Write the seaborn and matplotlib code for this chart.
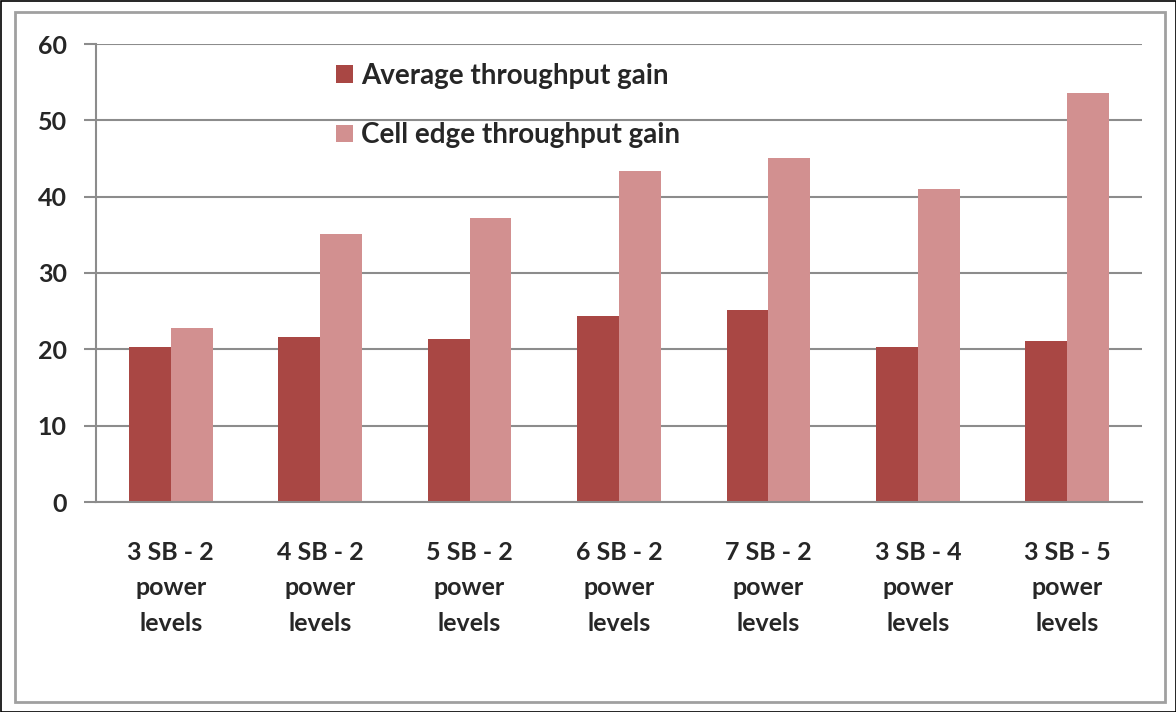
import matplotlib
matplotlib.use("Agg")
import matplotlib.pyplot as plt
from matplotlib.patches import Rectangle
import pandas as pd
import seaborn as sns

categories = [
    "3 SB - 2\npower\nlevels",
    "4 SB - 2\npower\nlevels",
    "5 SB - 2\npower\nlevels",
    "6 SB - 2\npower\nlevels",
    "7 SB - 2\npower\nlevels",
    "3 SB - 4\npower\nlevels",
    "3 SB - 5\npower\nlevels",
]
avg_gain = [20.3, 21.6, 21.4, 24.4, 25.2, 20.3, 21.1]
edge_gain = [22.8, 35.1, 37.2, 43.4, 45.1, 41.0, 53.6]
series_names = ["Average throughput gain", "Cell edge throughput gain"]
yticks = [0, 10, 20, 30, 40, 50, 60]

df = pd.DataFrame({
    "category": categories * 2,
    "value": avg_gain + edge_gain,
    "series": [series_names[0]] * len(categories) + [series_names[1]] * len(categories),
})

sns.set_style("white")
plt.rcParams["font.family"] = ["Lato", "DejaVu Sans"]
plt.rcParams["font.weight"] = "bold"

fig = plt.figure(figsize=(11.76, 7.12), dpi=100)
ax = fig.add_axes([96 / 1176, 1 - 502 / 712, (1142 - 96) / 1176, (502 - 44) / 712])

palette = {series_names[0]: "#A94744", series_names[1]: "#D29090"}
sns.barplot(data=df, x="category", y="value", hue="series", palette=palette,
            width=0.56, saturation=1, linewidth=0, ax=ax, legend=True)

ax.set_ylim(0, 60)
ax.set_xlim(-0.5, len(categories) - 0.5)
ax.set_yticks(yticks)
ax.set_yticklabels([str(t) for t in yticks], fontsize=18, fontweight="bold")
ax.yaxis.grid(True, color="#8C8C8C", linewidth=1.5)
ax.set_axisbelow(True)
ax.set_xlabel("")
ax.set_ylabel("")

ax.set_xticks(range(len(categories)))
ax.set_xticklabels(categories, fontsize=18, fontweight="bold", linespacing=1.65)
ax.set_xticks([i - 0.5 for i in range(len(categories) + 1)], minor=True)
ax.tick_params(axis="x", which="major", length=0, pad=28)
ax.tick_params(axis="x", which="minor", length=10, width=1.5, color="#8C8C8C")
ax.tick_params(axis="y", length=9, width=1.5, color="#8C8C8C", pad=12, left=True)

for side in ["top", "right"]:
    ax.spines[side].set_visible(False)
for side in ["left", "bottom"]:
    ax.spines[side].set_color("#8C8C8C")
    ax.spines[side].set_linewidth(1.5)

ax.legend(loc="upper left", bbox_to_anchor=((336 - 96) / 1046, (502 - 63) / 458),
          frameon=False, handlelength=0.6, handleheight=0.6, borderpad=0,
          borderaxespad=0, handletextpad=0.3, labelspacing=1.2,
          prop={"weight": "bold", "size": 20})

# outer borders
fig.patches.append(Rectangle((0.5 / 1176, 0.5 / 712), 1 - 1 / 1176, 1 - 1 / 712,
                             transform=fig.transFigure, fill=False,
                             edgecolor="black", linewidth=1.2))
fig.patches.append(Rectangle((15 / 1176, 1 - 702 / 712), (1165 - 15) / 1176, (702 - 12) / 712,
                             transform=fig.transFigure, fill=False,
                             edgecolor="#A0A0A0", linewidth=2))

fig.savefig("out.png", dpi=100)
